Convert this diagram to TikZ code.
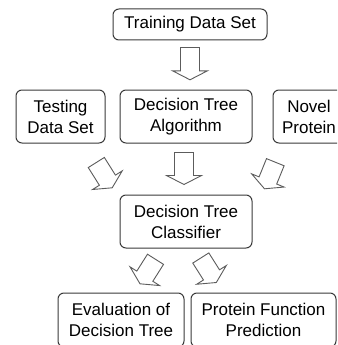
\documentclass[tikz,border=0pt]{standalone}
\usepackage{fontspec}
\setmainfont{Liberation Sans}
\usetikzlibrary{calc}
\definecolor{StageLine}{HTML}{3A3A3A}
\definecolor{FlowLine}{HTML}{5C5C5C}
\tikzset{
  every node/.style={font=\fontsize{17}{21}\selectfont, text=black},
  stage/.style={draw=StageLine, line width=1pt, rounded corners=6pt, align=center,
    inner sep=0pt, minimum height=53pt},
  flow/.style={draw=FlowLine, line width=0.9pt, fill=white, line join=miter},
}
\newcommand\shaftw{9.5pt}
\newcommand\headw{17.5pt}
\newcommand\headlen{9pt}
% block arrow from #1 to #2
\newcommand\flowarrow[2]{%
  \coordinate (fa-h) at ($(#2)!\headlen!(#1)$);
  \draw[flow] ($(#1)!\shaftw!90:(#2)$) -- ($(fa-h)!\shaftw!-90:(#1)$)
    -- ($(fa-h)!\headw!-90:(#1)$) -- (#2) -- ($(fa-h)!\headw!90:(#1)$)
    -- ($(fa-h)!\shaftw!90:(#1)$) -- ($(#1)!\shaftw!-90:(#2)$) -- cycle;}

\begin{document}
\begin{tikzpicture}[x=1pt, y=-1pt]
  \clip (0,0) rectangle (337,345);
  \fill[white] (0,0) rectangle (337,345);
  % Stages
  \node[stage, minimum width=154pt, minimum height=31pt] (train) at (190,24.5) {Training Data Set};
  \node[stage, minimum width=89pt] (test) at (60.5,116.5) {Testing\\Data Set};
  \node[stage, minimum width=132pt] (algo) at (186,116.5) {Decision Tree\\Algorithm};
  \node[stage, minimum width=72pt] (novel) at (309,116.5) {Novel\\Protein};
  \node[stage, minimum width=132pt] (clf) at (186,221.5) {Decision Tree\\Classifier};
  \node[stage, minimum width=126pt, minimum height=54pt] (eval) at (121,320) {Evaluation of\\Decision Tree};
  \node[stage, minimum width=145pt, minimum height=54pt] (pred) at (263.5,320) {Protein Function\\Prediction};
  % Arrow ends
  \coordinate (trainS) at ($(train.south)+(0,7)$);
  \coordinate (trainE) at ($(train.south)+(0,39.3)$);
  \coordinate (algoS) at ($(algo.south)+(-2,9)$);
  \coordinate (algoE) at ($(algo.south)+(-2,41)$);
  \coordinate (testS) at ($(test.south east)+(-9.2,19)$);
  \coordinate (testE) at ($(test.south east)+(6.7,44.3)$);
  \coordinate (novelS) at ($(novel.south west)+(2.8,18.7)$);
  \coordinate (novelE) at ($(novel.south west)+(-8,45.3)$);
  \coordinate (evalS) at ($(clf.south)+(-30.5,10.8)$);
  \coordinate (evalE) at ($(clf.south)+(-46,35.3)$);
  \coordinate (predS) at ($(clf.south)+(14.8,9.5)$);
  \coordinate (predE) at ($(clf.south)+(30.3,34)$);
  % Block arrows
  \flowarrow{trainS}{trainE}
  \flowarrow{algoS}{algoE}
  \flowarrow{testS}{testE}
  \flowarrow{novelS}{novelE}
  \flowarrow{evalS}{evalE}
  \flowarrow{predS}{predE}
\end{tikzpicture}
\end{document}
